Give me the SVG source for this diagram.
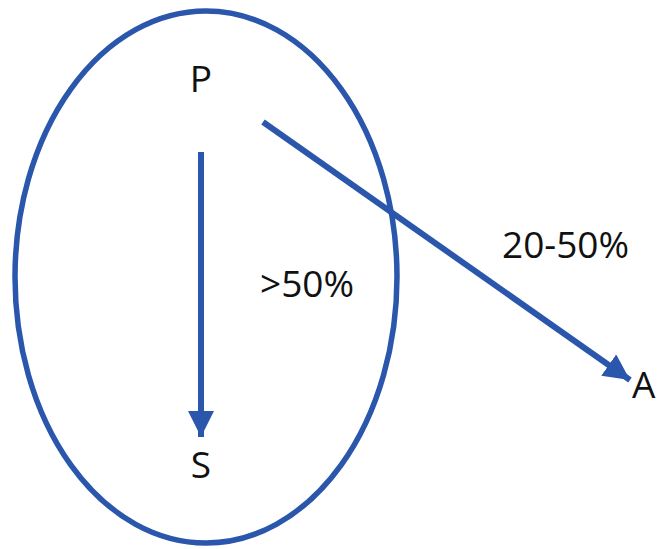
<svg xmlns="http://www.w3.org/2000/svg" width="661" height="549" viewBox="0 0 661 549">
<style>
.lbl{font-family:"Open Sans","Noto Sans","Liberation Sans",sans-serif;font-size:37px;fill:#111}
.conn{stroke:#2A56AC;stroke-width:6;fill:none}
</style>
<defs>
<marker id="ah" markerUnits="userSpaceOnUse" markerWidth="26" markerHeight="26" viewBox="0 0 26 26" refX="26" refY="13" orient="auto">
<path d="M0,0 L26,13 L0,26 Z" fill="#2A56AC"/>
</marker>
</defs>
<rect width="661" height="549" fill="#fff"/>
<g id="ellipse"><ellipse cx="206" cy="277" rx="191" ry="266" fill="none" stroke="#2A56AC" stroke-width="5.5"/></g>
<g id="connectors">
<line class="conn" x1="201" y1="152" x2="201" y2="437" marker-end="url(#ah)"/>
<line class="conn" x1="263" y1="122" x2="630" y2="380" marker-end="url(#ah)"/>
</g>
<g id="node-P"><text class="lbl" x="201" y="92" text-anchor="middle">P</text></g>
<g id="node-S"><text class="lbl" x="201" y="478" text-anchor="middle">S</text></g>
<g id="node-A"><text class="lbl" x="632" y="398">A</text></g>
<g id="labels">
<text class="lbl" x="260" y="297">&gt;50%</text>
<text class="lbl" x="502" y="258">20-50%</text>
</g>
</svg>
